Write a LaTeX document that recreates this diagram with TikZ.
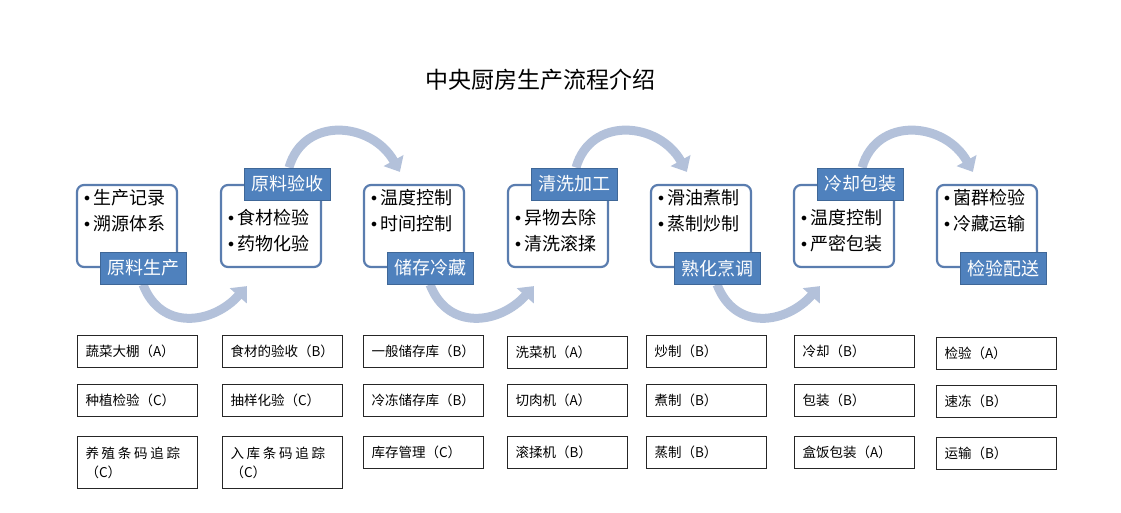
\documentclass[tikz,border=0pt]{standalone}
\usepackage{fontspec}
\setmainfont{Noto Sans CJK SC}
\usetikzlibrary{positioning,arrows.meta,backgrounds}

\definecolor{kuang}{HTML}{5A7DAF}
\definecolor{biaoti}{HTML}{4F81BD}
\definecolor{jiantou}{HTML}{B3C1DA}

\newcommand\dian{\raisebox{3pt}{\fontsize{12}{12}\selectfont$\bullet$}\,}

\tikzset{
	stage/.style={draw=kuang, line width=2.2pt, rounded corners=7pt, fill=white,
		minimum width=100pt, minimum height=82pt},
	tag/.style={draw=biaoti!80!black, line width=0.8pt, fill=biaoti, text=white,
		font=\fontsize{18}{18}\selectfont, minimum width=86pt, minimum height=32pt, inner sep=0pt},
	items/.style={align=left, anchor=north west, inner sep=0pt,
		font=\fontsize{18}{26}\selectfont},
	cell/.style={draw=black!85, line width=1pt, anchor=north west, align=left,
		minimum width=120pt, minimum height=32pt, text width=104pt, inner xsep=8pt,
		font=\fontsize{13.5}{19}\selectfont},
	flow/.style={draw=jiantou, line width=9pt, -{Triangle[width=22pt,length=13pt]}}
}

\begin{document}
\begin{tikzpicture}[x=1pt, y=-1pt]
	
	\useasboundingbox (0,0) rectangle (1121,512);
	
	% 1. Tiêu đề
	\node[font=\fontsize{23}{23}\selectfont] (title) at (540,80) {中央厨房生产流程介绍};
	
	% 2. Bảy khung giai đoạn
	\node[stage] (s1) at (127,226) {};
	\node[stage] (s2) at (271,226) {};
	\node[stage] (s3) at (414,226) {};
	\node[stage] (s4) at (558,226) {};
	\node[stage] (s5) at (701,226) {};
	\node[stage] (s6) at (844,226) {};
	\node[stage] (s7) at (987,226) {};
	
	% nhãn xanh (dưới / trên)
	\node[tag] (t1) at ([xshift=16pt]s1.south) {原料生产};
	\node[tag] (t2) at ([xshift=16pt]s2.north) {原料验收};
	\node[tag] (t3) at ([xshift=16pt]s3.south) {储存冷藏};
	\node[tag] (t4) at ([xshift=16pt]s4.north) {清洗加工};
	\node[tag] (t5) at ([xshift=16pt]s5.south) {熟化烹调};
	\node[tag] (t6) at ([xshift=16pt]s6.north) {冷却包装};
	\node[tag] (t7) at ([xshift=16pt]s7.south) {检验配送};
	
	% các dòng gạch đầu dòng
	\node[items] (i1) at ([shift={(8,5)}]s1.north west) {\dian 生产记录\\\dian 溯源体系};
	\node[items] (i2) at ([shift={(8,25)}]s2.north west) {\dian 食材检验\\\dian 药物化验};
	\node[items] (i3) at ([shift={(8,5)}]s3.north west) {\dian 温度控制\\\dian 时间控制};
	\node[items] (i4) at ([shift={(8,25)}]s4.north west) {\dian 异物去除\\\dian 清洗滚揉};
	\node[items] (i5) at ([shift={(8,5)}]s5.north west) {\dian 滑油煮制\\\dian 蒸制炒制};
	\node[items] (i6) at ([shift={(8,25)}]s6.north west) {\dian 温度控制\\\dian 严密包装};
	\node[items] (i7) at ([shift={(8,5)}]s7.north west) {\dian 菌群检验\\\dian 冷藏运输};
	
	% 3. Mũi tên cong nối các giai đoạn
	\begin{scope}[on background layer]
		\draw[flow] (t1.south) .. controls +(18,47) and +(-34,38) .. ([shift={(27,18)}]s2.south west);
		\draw[flow] ([xshift=2pt]t2.north) .. controls +(15,-52) and +(-28,-50) .. ([shift={(37,-12)}]s3.north west);
		\draw[flow] (t3.south) .. controls +(18,47) and +(-34,38) .. ([shift={(27,18)}]s4.south west);
		\draw[flow] ([xshift=2pt]t4.north) .. controls +(15,-52) and +(-28,-50) .. ([shift={(37,-12)}]s5.north west);
		\draw[flow] (t5.south) .. controls +(18,47) and +(-34,38) .. ([shift={(27,18)}]s6.south west);
		\draw[flow] ([xshift=2pt]t6.north) .. controls +(15,-52) and +(-28,-50) .. ([shift={(37,-12)}]s7.north west);
	\end{scope}
	
	% 4. Bảng thiết bị bên dưới
	\node[cell] (b11) at (77,335) {蔬菜大棚（A）};
	\node[cell] (b12) at (77,384) {种植检验（C）};
	\node[cell, minimum height=52pt] (b13) at (77,436) {{\addfontfeature{LetterSpace=20}养殖条码追踪}\\（C）};
	
	\node[cell] (b21) at (222,335) {食材的验收（B）};
	\node[cell] (b22) at (222,384) {抽样化验（C）};
	\node[cell, minimum height=52pt] (b23) at (222,436) {{\addfontfeature{LetterSpace=20}入库条码追踪}\\（C）};
	
	\node[cell] (b31) at (363,335) {一般储存库（B）};
	\node[cell] (b32) at (363,384) {冷冻储存库（B）};
	\node[cell] (b33) at (363,436) {库存管理（C）};
	
	\node[cell] (b41) at (507,336) {洗菜机（A）};
	\node[cell] (b42) at (507,384) {切肉机（A）};
	\node[cell] (b43) at (507,436) {滚揉机（B）};
	
	\node[cell] (b51) at (646,335) {炒制（B）};
	\node[cell] (b52) at (646,384) {煮制（B）};
	\node[cell] (b53) at (646,436) {蒸制（B）};
	
	\node[cell] (b61) at (794,335) {冷却（B）};
	\node[cell] (b62) at (794,384) {包装（B）};
	\node[cell] (b63) at (794,436) {盒饭包装（A）};
	
	\node[cell] (b71) at (936,337) {检验（A）};
	\node[cell] (b72) at (936,385) {速冻（B）};
	\node[cell] (b73) at (936,437) {运输（B）};
	
\end{tikzpicture}
\end{document}
